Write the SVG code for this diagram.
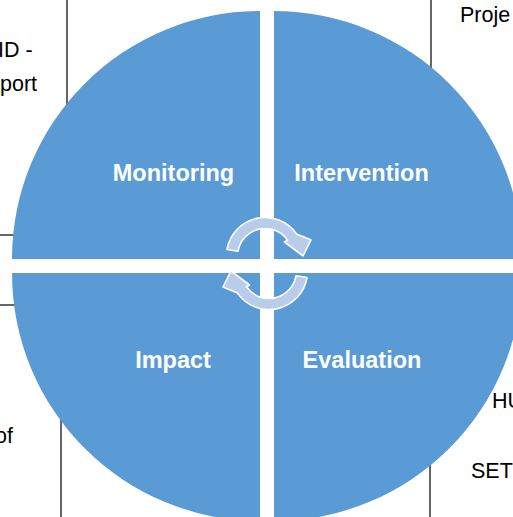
<svg xmlns="http://www.w3.org/2000/svg" width="513" height="517" viewBox="0 0 513 517">
  <style>
    .bg { font-family: "Liberation Sans", Arial, sans-serif; font-size: 21.5px; fill: #000; }
    .lbl { font-family: "Liberation Sans", Arial, sans-serif; font-size: 23.5px; font-weight: bold; fill: #fff; text-anchor: middle; }
    .line { stroke: #000; stroke-width: 1.2; fill: none; }
    .quad { fill: #5b9bd5; }
    .arrow { fill: #b9cce9; stroke: #fff; stroke-width: 1.6; stroke-linejoin: round; }
  </style>
  <defs>
    <path id="circArrow" d="M 227 249.5 A 38.5 38.5 0 0 1 296.5 233.9 L 311 240 L 303 256 L 284.5 242 L 287.6 240.2 A 27.5 27.5 0 0 0 238 251.2 Z"/>
  </defs>
  <rect width="513" height="517" fill="#fff"/>
  <g id="background">
    <line class="line" x1="67" y1="0" x2="67" y2="110"/>
    <line class="line" x1="431" y1="0" x2="431" y2="75"/>
    <line class="line" x1="0" y1="235" x2="20" y2="235"/>
    <line class="line" x1="0" y1="305" x2="20" y2="305"/>
    <line class="line" x1="61" y1="415" x2="61" y2="517"/>
    <line class="line" x1="430" y1="460" x2="430" y2="517"/>
    <text class="bg" x="-2" y="57">ID -</text>
    <text class="bg" x="0" y="91">port</text>
    <text class="bg" x="460" y="22">Proje</text>
    <text class="bg" x="-5" y="443">of</text>
    <text class="bg" x="492" y="408">HU</text>
    <text class="bg" x="471" y="478">SETT</text>
  </g>
  <g id="monitoring">
    <path class="quad" d="M260 259 L12 259 A248 248 0 0 1 260 11 Z"/>
    <text class="lbl" x="173.5" y="181">Monitoring</text>
  </g>
  <g id="intervention">
    <path class="quad" d="M274 259 L274 11 A248 248 0 0 1 522 259 Z"/>
    <text class="lbl" x="361.5" y="181">Intervention</text>
  </g>
  <g id="impact">
    <path class="quad" d="M260 273 L260 521 A248 248 0 0 1 12 273 Z"/>
    <text class="lbl" x="173" y="368">Impact</text>
  </g>
  <g id="evaluation">
    <path class="quad" d="M274 273 L522 273 A248 248 0 0 1 274 521 Z"/>
    <text class="lbl" x="362" y="368">Evaluation</text>
  </g>
  <g id="connectors">
    <use href="#circArrow" class="arrow"/>
    <use href="#circArrow" class="arrow" transform="rotate(180 267 263.5)"/>
  </g>
</svg>
